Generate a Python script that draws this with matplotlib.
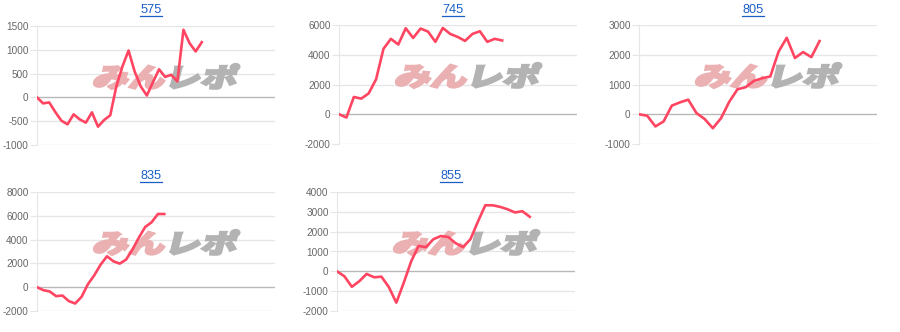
import matplotlib
matplotlib.use("Agg")
import matplotlib.pyplot as plt
from matplotlib.textpath import TextPath
from matplotlib.font_manager import FontProperties
from matplotlib.patches import PathPatch
from matplotlib.transforms import Affine2D
from matplotlib.lines import Line2D
import numpy as np

plt.rcParams["font.family"] = ["Liberation Sans", "DejaVu Sans"]

titles = ["575", "745", "805", "835", "855"]

s575 = [0, -126, -105, -307, -489, -566, -356, -461, -531, -314, -615, -475, -377,
        230, 650, 985, 545, 230, 40, 320, 590, 430, 475, 335, 1420, 1140, 965, 1160]
s745 = [0, -220, 1160, 1050, 1400, 2350, 4400, 5070, 4690, 5780, 5130, 5760, 5560,
        4870, 5800, 5400, 5200, 4930, 5400, 5580, 4870, 5070, 4960]
s805 = [0, -50, -410, -240, 290, 400, 490, 40, -160, -470, -130, 420, 840, 910,
        1120, 1210, 1270, 2100, 2570, 1890, 2090, 1920, 2460]
s835 = [0, -250, -360, -750, -700, -1170, -1370, -810, 250, 1000, 1900, 2600, 2180,
        1980, 2320, 3160, 4160, 5060, 5450, 6150, 6150]
s855 = [0, -250, -780, -500, -130, -300, -270, -800, -1580, -580, 500, 1280, 1220,
        1620, 1780, 1730, 1420, 1220, 1620, 2500, 3330, 3330, 3250, 3130, 2970, 3030, 2750]
series = [s575, s745, s805, s835, s855]

yticks = [
    [-1000, -500, 0, 500, 1000, 1500],
    [-2000, 0, 2000, 4000, 6000],
    [-1000, 0, 1000, 2000, 3000],
    [-2000, 0, 2000, 4000, 6000, 8000],
    [-2000, -1000, 0, 1000, 2000, 3000, 4000],
]

W, H = 900, 332
fig = plt.figure(figsize=(W / 100, H / 100), dpi=100)

# (left px, top px) of each plot area, width/height in px
boxes = [(37, 26), (339, 25), (639, 25), (37, 192), (337, 192)]
pw, ph = 238, 119
# number of x slots on each axis
xslots = [39, 32.1, 29, 37.4, 32.1]
title_pos = [(151, 10), (453, 10), (753, 10), (151, 176), (451, 176)]

line_color = "#ff4561"
grid_color = "#e6e6e6"

prop = FontProperties(family="Noto Sans CJK JP", weight="black")
p1 = TextPath((0, 0), "みん", size=100, prop=prop)
p1w = p1.get_extents().x1
p2 = TextPath((p1w + 2, 0), "レポ", size=100, prop=prop)
ext = np.vstack([p1.vertices, p2.vertices])
lx0, ly0 = ext.min(axis=0)
lx1, ly1 = ext.max(axis=0)

titles_art = []
for i, (vals, t) in enumerate(zip(series, titles)):
    left, top = boxes[i]
    ax = fig.add_axes([left / W, 1 - (top + ph) / H, pw / W, ph / H])
    ax.plot(range(len(vals)), vals, color=line_color, lw=1.9, zorder=3)
    ax.set_xlim(0, xslots[i])
    ax.set_ylim(yticks[i][0], yticks[i][-1])
    ax.set_yticks(yticks[i])
    ax.set_yticklabels([str(v) for v in yticks[i]])
    ax.set_xticks([])
    for v in yticks[i]:
        ax.axhline(v, color="#b8b8b8" if v == 0 else grid_color, lw=1, zorder=1)
    for s in ["top", "right", "bottom"]:
        ax.spines[s].set_visible(False)
    ax.spines["left"].set_color(grid_color)
    ax.tick_params(axis="y", length=5, color=grid_color, pad=1, labelsize=7.2,
                   labelcolor="#666666")

    # watermark logo
    ax_l = left
    ax_b = H - (top + ph)
    sx = 143 / (lx1 - lx0)
    sy = 25 / (ly1 - ly0)
    tr = (Affine2D().translate(-lx0, -ly0).scale(sx, sy).skew_deg(14, 0)
          .translate(ax_l + 54, ax_b + 56))
    ax.add_patch(PathPatch(p1, transform=tr, facecolor="#ebb0b2", edgecolor="#ebb0b2",
                           lw=1.6, zorder=2, clip_on=False))
    ax.add_patch(PathPatch(p2, transform=tr, facecolor="#b3b3b3", edgecolor="#b3b3b3",
                           lw=1.6, zorder=2, clip_on=False))

    tx, ty = title_pos[i]
    titles_art.append(fig.text(tx / W, 1 - ty / H, t, ha="center", va="center",
                               fontsize=9.2, color="#1a5fc8"))

fig.canvas.draw()
r = fig.canvas.get_renderer()
for ta in titles_art:
    bb = ta.get_window_extent(r)
    y = bb.y0 + 0.5
    fig.add_artist(Line2D([bb.x0 / W, bb.x1 / W], [y / H, y / H],
                          transform=fig.transFigure, color="#1a5fc8", lw=0.9))

fig.savefig("out.png", dpi=100)
